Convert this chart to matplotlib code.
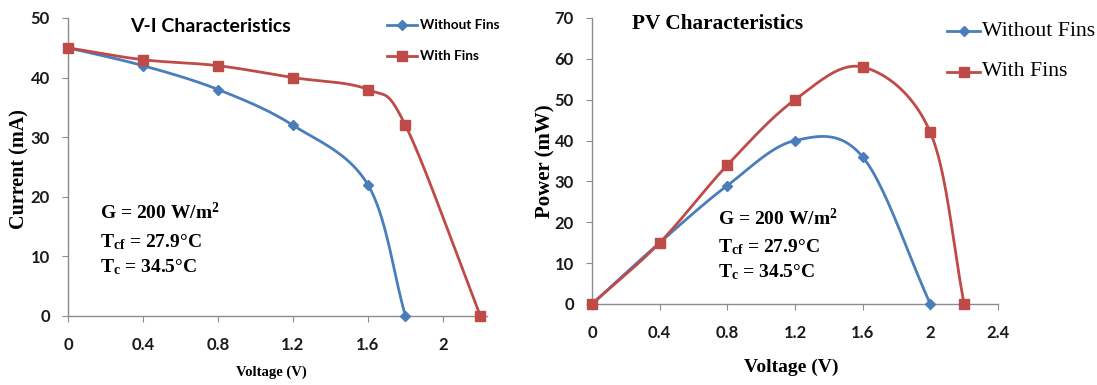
import matplotlib

matplotlib.use("Agg")
import matplotlib.pyplot as plt
import numpy as np

# V-I data
vi_v_without = [0, 0.4, 0.8, 1.2, 1.6, 1.8]
vi_i_without = [45, 42, 38, 32, 22, 0]
vi_v_with = [0, 0.4, 0.8, 1.2, 1.6, 1.8, 2.2]
vi_i_with = [45, 43, 42, 40, 38, 32, 0]

# P-V data
pv_v_without = [0, 0.4, 0.8, 1.2, 1.6, 2.0]
pv_p_without = [0, 15, 29, 40, 36, 0]
pv_v_with = [0, 0.4, 0.8, 1.2, 1.6, 2.0, 2.2]
pv_p_with = [0, 15, 34, 50, 58, 42, 0]

vi_xticks = [0, 0.4, 0.8, 1.2, 1.6, 2]
vi_xlabels = ["0", "0.4", "0.8", "1.2", "1.6", "2"]
pv_xticks = [0, 0.4, 0.8, 1.2, 1.6, 2, 2.4]
pv_xlabels = ["0", "0.4", "0.8", "1.2", "1.6", "2", "2.4"]

BLUE = "#4a7ebb"
RED = "#be4b48"
SANS = "Lato"
SERIF = "Liberation Serif"

plt.rcParams["mathtext.fontset"] = "custom"
plt.rcParams["mathtext.rm"] = "Liberation Serif:bold"
plt.rcParams["mathtext.it"] = "Liberation Serif:bold"
plt.rcParams["mathtext.bf"] = "Liberation Serif:bold"

W, H = 1097, 385


def smooth(x, y, n=24):
    # Catmull-Rom curve through the points, like the spreadsheet smoothed line
    x = np.asarray(x, float)
    y = np.asarray(y, float)
    px = np.concatenate([[2 * x[0] - x[1]], x, [2 * x[-1] - x[-2]]])
    py = np.concatenate([[2 * y[0] - y[1]], y, [2 * y[-1] - y[-2]]])
    xs, ys = [], []
    t = np.linspace(0, 1, n)
    for k in range(1, len(px) - 2):
        for arr, out in ((px, xs), (py, ys)):
            p0, p1, p2, p3 = arr[k - 1], arr[k], arr[k + 1], arr[k + 2]
            out.extend(0.5 * ((2 * p1) + (-p0 + p2) * t
                              + (2 * p0 - 5 * p1 + 4 * p2 - p3) * t ** 2
                              + (-p0 + 3 * p1 - 3 * p2 + p3) * t ** 3))
    return np.array(xs), np.array(ys)


def series(ax, x, y, color, marker, ms):
    sx, sy = smooth(x, y)
    ax.plot(sx, sy, color=color, lw=2.0, zorder=2, clip_on=False)
    ax.plot(x, y, ls="none", marker=marker, ms=ms, color=color, zorder=3,
            clip_on=False)


def style(ax, xticks, xlabels):
    for s in ("top", "right"):
        ax.spines[s].set_visible(False)
    for s in ("left", "bottom"):
        ax.spines[s].set_color("#8c8c8c")
        ax.spines[s].set_linewidth(1.0)
    ax.set_xticks(xticks, xlabels)
    ax.tick_params(axis="both", direction="out", length=4, color="#8c8c8c",
                   labelsize=12, pad=11)
    ax.tick_params(axis="y", pad=9)
    for lab in ax.get_xticklabels() + ax.get_yticklabels():
        lab.set_fontfamily(SANS)
        lab.set_fontweight("bold")
        lab.set_color("#1a1a1a")


def fx(x):
    return x / W


def fy(y):
    return 1 - y / H


def legend(x0, x1, xt, rows, **kw):
    for yy, col, mk, ms, lab in rows:
        fig.add_artist(plt.Line2D([fx(x0), fx(x1)], [fy(yy), fy(yy)],
                                  color=col, lw=2.0))
        fig.add_artist(plt.Line2D([fx((x0 + x1) / 2)], [fy(yy)], marker=mk,
                                  ms=ms, color=col))
        fig.text(fx(xt), fy(yy), lab, va="center", **kw)


fig = plt.figure(figsize=(W / 100, H / 100), dpi=100)

# left: V-I
ax1 = fig.add_axes([fx(68), fy(316), fx(487 - 68), (316 - 18) / H])
series(ax1, vi_v_without, vi_i_without, BLUE, "D", 5)
series(ax1, vi_v_with, vi_i_with, RED, "s", 7.5)
ax1.set_xlim(0, 2.235)
ax1.set_ylim(0, 50)
ax1.set_yticks(range(0, 51, 10))
style(ax1, vi_xticks, vi_xlabels)
fig.text(fx(19), fy(169), "Current (mA)", fontfamily=SERIF, fontweight="bold",
         fontsize=14.5, rotation=90, ha="center", va="center")
fig.text(fx(271), fy(372), "Voltage (V)", fontfamily=SERIF, fontweight="bold",
         fontsize=10.5, ha="center", va="center")
fig.text(fx(130), fy(27), "V-I Characteristics", fontfamily=SANS,
         fontweight="bold", fontsize=14, va="center")
legend(387, 417, 420,
       ((25, BLUE, "D", 5, "Without Fins"), (56, RED, "s", 7.5, "With Fins")),
       fontfamily=SANS, fontweight="bold", fontsize=9.8)

# right: P-V
ax2 = fig.add_axes([fx(592), fy(304), fx(998 - 592), (304 - 18) / H])
series(ax2, pv_v_without, pv_p_without, BLUE, "D", 5)
series(ax2, pv_v_with, pv_p_with, RED, "s", 7.5)
ax2.set_xlim(0, 2.4)
ax2.set_ylim(0, 70)
ax2.set_yticks(range(0, 71, 10))
style(ax2, pv_xticks, pv_xlabels)
fig.text(fx(545), fy(161), "Power (mW)", fontfamily=SERIF, fontweight="bold",
         fontsize=15, rotation=90, ha="center", va="center")
fig.text(fx(791), fy(367), "Voltage (V)", fontfamily=SERIF, fontweight="bold",
         fontsize=14, ha="center", va="center")
fig.text(fx(632), fy(24), "PV Characteristics", fontfamily=SERIF,
         fontweight="bold", fontsize=15.3, va="center")
legend(947, 980, 982,
       ((31, BLUE, "D", 5, "Without Fins"), (72, RED, "s", 7.5, "With Fins")),
       fontfamily=SERIF, fontsize=15.7)

# condition notes
notes = [r"G = 200 W/m$^{2}$", r"T$_{\rm cf}$ = 27.9°C", r"T$_{\rm c}$ = 34.5°C"]
for x0, ys in ((100, (213, 242, 267)), (718, (218, 247, 272))):
    for txt, yy in zip(notes, ys):
        fig.text(fx(x0), fy(yy), txt, fontfamily=SERIF, fontweight="bold",
                 fontsize=14, va="center")

fig.savefig("out.png", dpi=100)
